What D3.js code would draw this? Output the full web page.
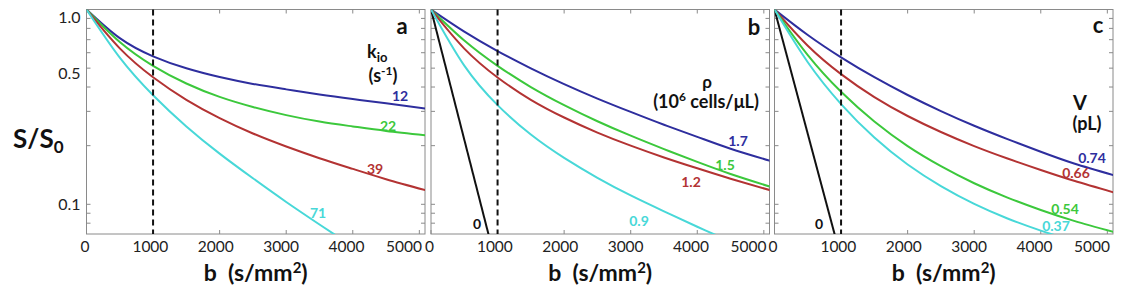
<!DOCTYPE html>
<html>
<head>
<meta charset="utf-8">
<script src="https://cdn.jsdelivr.net/npm/d3@7"></script>
<style>
  body { margin: 0; background: #fff; }
  svg { font-family: Lato, "Open Sans", sans-serif; }
</style>
</head>
<body>
<svg id="chart" width="1125" height="303"></svg>
<script>
// b values (s/mm^2) where the curves were read
let bGrid = [0, 500, 1000, 1500, 2000, 2500, 3000, 3500, 4000, 4500, 5100];
let bBlack = [0, 1000];

// panel a : k_io (s^-1)
let kioLabels = ["12", "22", "39", "71"];
let kio12 = [1, 0.713, 0.575, 0.499, 0.450, 0.415, 0.389, 0.366, 0.347, 0.330, 0.310];
let kio22 = [1, 0.681, 0.514, 0.417, 0.356, 0.316, 0.287, 0.266, 0.251, 0.238, 0.226];
let kio39 = [1, 0.632, 0.449, 0.344, 0.277, 0.231, 0.198, 0.1725, 0.152, 0.1346, 0.118];
let kio71 = [1, 0.566, 0.363, 0.251, 0.182, 0.136, 0.1028, 0.0788, 0.0607];

// panel b : rho (10^6 cells/uL)
let rhoLabels = ["1.7", "1.5", "1.2", "0.9", "0"];
let rho17 = [1, 0.770, 0.612, 0.499, 0.414, 0.349, 0.298, 0.256, 0.222, 0.193, 0.167];
let rho15 = [1, 0.693, 0.514, 0.400, 0.323, 0.267, 0.225, 0.192, 0.165, 0.1431, 0.123];
let rho12 = [1, 0.630, 0.448, 0.344, 0.279, 0.2335, 0.200, 0.174, 0.153, 0.1353, 0.118];
let rho09 = [1, 0.515, 0.323, 0.228, 0.173, 0.1368, 0.111, 0.092, 0.0767, 0.0644, 0.0525];
let rho0 = [1, 0.0461];

// panel c : V (pL)
let volLabels = ["0.74", "0.66", "0.54", "0.37", "0"];
let vol074 = [1, 0.740, 0.568, 0.449, 0.364, 0.301, 0.253, 0.216, 0.186, 0.1619, 0.141];
let vol066 = [1, 0.652, 0.466, 0.355, 0.284, 0.235, 0.199, 0.1718, 0.150, 0.132, 0.115];
let vol054 = [1, 0.583, 0.378, 0.266, 0.199, 0.157, 0.1283, 0.1083, 0.0935, 0.0822, 0.072];
let vol037 = [1, 0.536, 0.327, 0.220, 0.160, 0.124, 0.1005, 0.0846, 0.0733, 0.0649, 0.0573];
let vol0 = [1, 0.0528];

let xTicks = [0, 1000, 2000, 3000, 4000, 5000];
let yTicks = [1.0, 0.5, 0.1];
let yMinor = [0.08, 0.09, 0.2, 0.3, 0.4, 0.6, 0.7, 0.8, 0.9];

let colors = { blue: "#2e2e9e", green: "#3cc83c", red: "#b33333", cyan: "#48d8d8", black: "#111" };

let svg = d3.select("#chart");
let plotW = 338.5, plotTop = 9.5, plotBottom = 234;

function series(xs, ys) {
    return ys.map((v, i) => ({ b: xs[i], s: v }));
}

function createPanel(id, left, curves, notes, showY) {
    let xScale = d3.scaleLinear().domain([0, 5085]).range([left, left + plotW]);
    let yScale = d3.scaleLog().domain([0.0704, 1]).range([plotBottom, plotTop]);
    // tick labels sit slightly left of their ticks in the original
    let labelScale = d3.scaleLinear().domain([0, 4000]).range([left - 1.5, left + 260]);

    svg.append("clipPath").attr("id", "clip" + id)
        .append("rect").attr("x", left).attr("y", plotTop)
        .attr("width", plotW).attr("height", plotBottom - plotTop);

    // box with inward ticks on all sides
    svg.append("rect")
        .attr("x", left).attr("y", plotTop)
        .attr("width", plotW).attr("height", plotBottom - plotTop)
        .attr("fill", "none").attr("stroke", "#8a8a8a").attr("stroke-width", 1);

    let tick = (x1, y1, x2, y2) => svg.append("line")
        .attr("x1", x1).attr("y1", y1).attr("x2", x2).attr("y2", y2)
        .attr("stroke", "#8a8a8a").attr("stroke-width", 1);

    xTicks.forEach(t => {
        tick(xScale(t), plotBottom, xScale(t), plotBottom - 4);
        tick(xScale(t), plotTop, xScale(t), plotTop + 4);
    });
    yTicks.concat(yMinor).forEach(t => {
        tick(left, yScale(t), left + 4, yScale(t));
        tick(left + plotW, yScale(t), left + plotW - 4, yScale(t));
    });

    // x tick labels, the last one pulled inside the box
    let last = xTicks[xTicks.length - 1];
    svg.append("g").selectAll("text")
        .data(xTicks).enter().append("text")
        .attr("x", d => d === last ? left + plotW - 3 : labelScale(d))
        .attr("y", 252)
        .attr("text-anchor", d => d === last ? "end" : "middle")
        .attr("font-size", "15.5px")
        .attr("fill", "#222")
        .text(d => d);

    if (showY) {
        let yShift = { 1: 8, 0.5: 5, 0.1: 0 };
        svg.append("g").selectAll("text")
            .data(yTicks).enter().append("text")
            .attr("x", left - 6)
            .attr("y", d => yScale(d) + yShift[d])
            .attr("dy", "0.35em")
            .attr("text-anchor", "end")
            .attr("font-size", "16px")
            .attr("fill", "#222")
            .text(d => d3.format(".1f")(d));
    }

    // curves
    let line = d3.line()
        .x(d => xScale(d.b))
        .y(d => yScale(d.s))
        .curve(d3.curveNatural);

    let plot = svg.append("g").attr("clip-path", `url(#clip${id})`);
    curves.forEach(c => {
        plot.append("path")
            .datum(c.data)
            .attr("d", line)
            .attr("fill", "none")
            .attr("stroke", colors[c.color])
            .attr("stroke-width", 2);
    });

    // dashed line at b = 1000
    svg.append("line")
        .attr("x1", xScale(1000)).attr("x2", xScale(1000))
        .attr("y1", plotTop).attr("y2", plotBottom)
        .attr("stroke", "#111")
        .attr("stroke-width", 2)
        .style("stroke-dasharray", "6,4");

    // value labels next to curves
    notes.forEach(n => {
        svg.append("text")
            .attr("x", n.x).attr("y", n.y)
            .attr("text-anchor", "middle")
            .attr("font-size", "14px")
            .attr("font-weight", "bold")
            .attr("fill", colors[n.color])
            .text(n.text);
    });

    // x axis title
    let xt = svg.append("text")
        .attr("x", left + plotW / 2)
        .attr("y", 281)
        .attr("text-anchor", "middle")
        .attr("font-size", "23px")
        .attr("font-weight", "bold")
        .attr("fill", "#111")
        .style("white-space", "pre");
    xt.append("tspan").text("b  (s/mm");
    xt.append("tspan").attr("font-size", "15px").attr("dy", -8).text("2");
    xt.append("tspan").attr("dy", 8).text(")");

    return { xScale, yScale };
}

// panel a
createPanel("a", 86.5, [
    { data: series(bGrid, kio12), color: "blue" },
    { data: series(bGrid, kio22), color: "green" },
    { data: series(bGrid, kio39), color: "red" },
    { data: series(bGrid, kio71), color: "cyan" }
], [
    { text: kioLabels[0], x: 400, y: 101, color: "blue" },
    { text: kioLabels[1], x: 388, y: 131, color: "green" },
    { text: kioLabels[2], x: 375, y: 174, color: "red" },
    { text: kioLabels[3], x: 318, y: 218, color: "cyan" }
], true);

// panel b
createPanel("b", 431, [
    { data: series(bBlack, rho0), color: "black" },
    { data: series(bGrid, rho17), color: "blue" },
    { data: series(bGrid, rho15), color: "green" },
    { data: series(bGrid, rho12), color: "red" },
    { data: series(bGrid, rho09), color: "cyan" }
], [
    { text: rhoLabels[0], x: 738, y: 146, color: "blue" },
    { text: rhoLabels[1], x: 725, y: 170, color: "green" },
    { text: rhoLabels[2], x: 691, y: 187, color: "red" },
    { text: rhoLabels[3], x: 639, y: 226, color: "cyan" },
    { text: rhoLabels[4], x: 477, y: 229, color: "black" }
], false);

// panel c
createPanel("c", 774.5, [
    { data: series(bBlack, vol0), color: "black" },
    { data: series(bGrid, vol074), color: "blue" },
    { data: series(bGrid, vol066), color: "red" },
    { data: series(bGrid, vol054), color: "green" },
    { data: series(bGrid, vol037), color: "cyan" }
], [
    { text: volLabels[0], x: 1092, y: 163, color: "blue" },
    { text: volLabels[1], x: 1076, y: 178, color: "red" },
    { text: volLabels[2], x: 1065, y: 214, color: "green" },
    { text: volLabels[3], x: 1056, y: 231, color: "cyan" },
    { text: volLabels[4], x: 819, y: 229, color: "black" }
], false);

// panel letters and legend titles
let bold = (x, y, size, anchor) => svg.append("text")
    .attr("x", x).attr("y", y)
    .attr("text-anchor", anchor)
    .attr("font-size", size)
    .attr("font-weight", "bold")
    .attr("fill", "#111");

bold(402, 34, "22px", "middle").text("a");
bold(754, 35, "22px", "middle").text("b");
bold(1098, 33, "22px", "middle").text("c");

let kio = bold(367, 58, "18px", "start");
kio.append("tspan").text("k");
kio.append("tspan").attr("font-size", "13px").attr("dy", 4).text("io");
let sUnit = bold(383, 82, "18px", "middle");
sUnit.append("tspan").text("(s");
sUnit.append("tspan").attr("font-size", "12px").attr("dy", -7).text("-1");
sUnit.append("tspan").attr("dy", 7).text(")");

bold(707, 88, "17px", "middle").text("ρ");
let rhoUnit = bold(706, 108, "18px", "middle");
rhoUnit.append("tspan").text("(10");
rhoUnit.append("tspan").attr("font-size", "12px").attr("dy", -7).text("6");
rhoUnit.append("tspan").attr("dy", 7).text(" cells/μL)");

bold(1080, 110, "20px", "middle").text("V");
bold(1087, 130, "18px", "middle").text("(pL)");

// y axis title
let yt = bold(13, 148, "26px", "start");
yt.append("tspan").text("S/S");
yt.append("tspan").attr("font-size", "17px").attr("dy", 5).text("0");
</script>
</body>
</html>
